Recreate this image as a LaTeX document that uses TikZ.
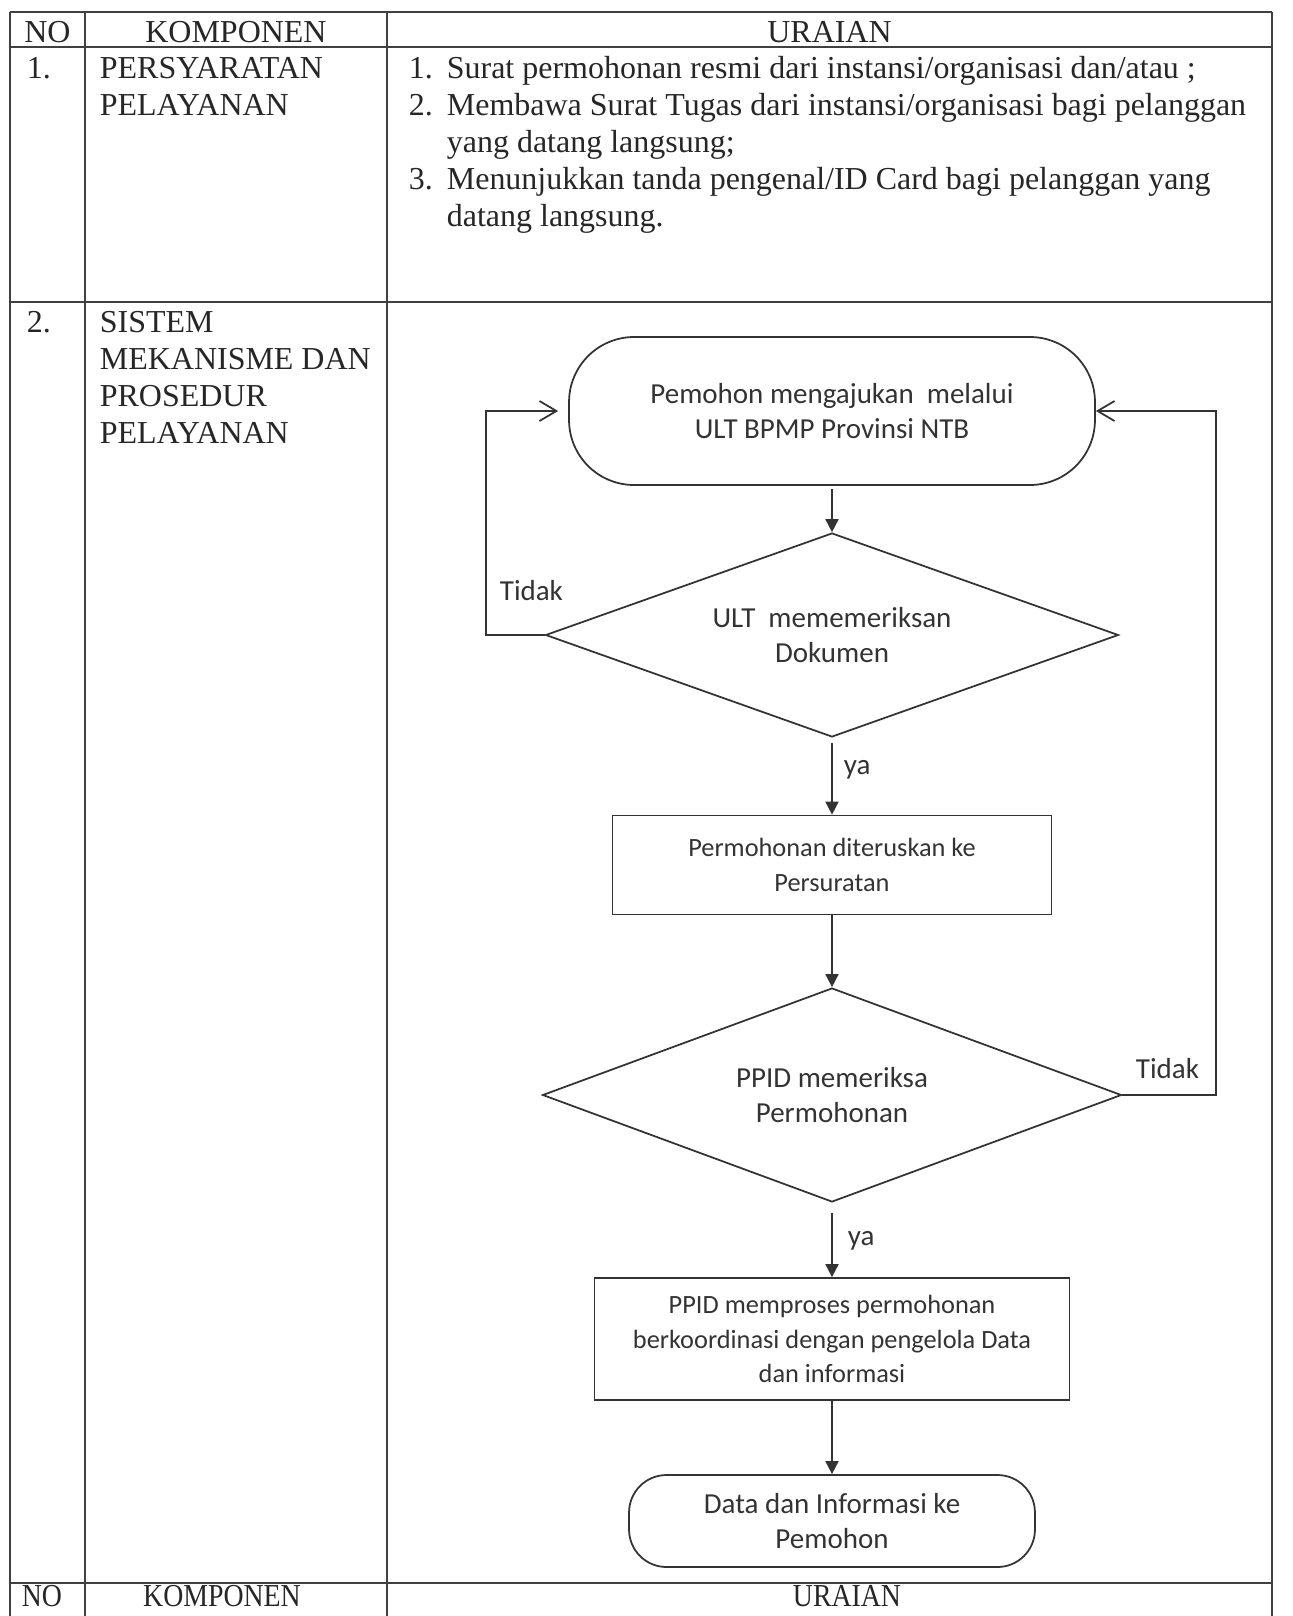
\documentclass[tikz,border=0pt]{standalone}
\usepackage{fontspec}
\setmainfont{Liberation Serif}
\newfontfamily\calibrifont{Carlito}
\usepackage{xcolor}
\usetikzlibrary{arrows.meta,positioning,calc,shapes.geometric}

\newcommand{\tblfont}{\fontsize{18.2}{21}\selectfont}
\newcommand{\flowbig}{\calibrifont\fontsize{16.5}{20}\selectfont}
\newcommand{\flowsmall}{\calibrifont\fontsize{15}{19.6}\selectfont}

\tikzset{
    tbl/.style={line width=0.7pt, black!75},
    cell/.style={anchor=base west, inner sep=0pt, font=\tblfont, text=black!85},
    head/.style={anchor=base, inner sep=0pt, font=\tblfont, text=black!85},
    term/.style={draw, rounded corners=1.3cm, align=center, inner sep=0pt, font=\flowbig},
    decision/.style={draw, diamond, aspect=2.8, align=center, inner sep=0pt, font=\flowbig},
    process/.style={draw, rectangle, align=center, inner sep=0pt, font=\flowsmall},
    flow/.style={-{Triangle[length=2.6mm,width=2.6mm]}},
    back/.style={-{Straight Barb[length=3.4mm,width=4mm]}},
    lbl/.style={inner sep=0pt, font=\flowbig},
}

\begin{document}
\begin{tikzpicture}[x=0.02cm, y=-0.02cm, line width=1pt, draw=black!80, text=black!80]
    \useasboundingbox (0,0) rectangle (1292,1616);

    % Table rules
    \draw[tbl] (10,12) -- (1272,12);
    \foreach \y in {47,302,1583} {
        \draw[tbl] (10,\y) -- (1272,\y);
    }
    \foreach \x in {10,85,387,1272} {
        \draw[tbl] (\x,12) -- (\x,1640);
    }

    % Header
    \node[head] (hno) at (47.5,42) {NO};
    \node[head] (hkomp) at (236,42) {KOMPONEN};
    \node[head] (hurai) at (829.5,42) {URAIAN};

    % Row 1
    \node[cell] (no1) at (26,78) {1.};
    \node[cell] (komp1a) at (99,78) {PERSYARATAN};
    \node[cell] (komp1b) at (99,115) {PELAYANAN};
    \node[cell] (n1) at (408,78) {1.};
    \node[cell] (u1) at (446,78) {Surat permohonan resmi dari instansi/organisasi dan/atau ;};
    \node[cell] (n2) at (408,115) {2.};
    \node[cell] (u2a) at (446,115) {Membawa Surat Tugas dari instansi/organisasi bagi pelanggan};
    \node[cell] (u2b) at (446,152) {yang datang langsung;};
    \node[cell] (n3) at (408,189) {3.};
    \node[cell] (u3a) at (446,189) {Menunjukkan tanda pengenal/ID Card bagi pelanggan yang};
    \node[cell] (u3b) at (446,226) {datang langsung.};

    % Row 2
    \node[cell] (no2) at (26,332) {2.};
    \node[cell] (komp2a) at (99,332) {SISTEM};
    \node[cell] (komp2b) at (99,369) {MEKANISME DAN};
    \node[cell] (komp2c) at (99,406) {PROSEDUR};
    \node[cell] (komp2d) at (99,443) {PELAYANAN};

    % Flowchart
    \node[term, minimum width=10.52cm, minimum height=2.96cm] (start) at (832,411)
        {Pemohon mengajukan\ \ melalui\\ULT BPMP Provinsi NTB};
    \node[decision, minimum width=11.46cm, minimum height=4.08cm] (cek1) at (832,635)
        {ULT\ \ mememeriksan\\Dokumen};
    \node[process, minimum width=8.78cm, minimum height=1.98cm] (teruskan) at (832,865)
        {Permohonan diteruskan ke\\Persuratan};
    \node[decision, minimum width=11.58cm, minimum height=4.28cm] (cek2) at (832,1095)
        {PPID memeriksa\\Permohonan};
    \node[process, minimum width=9.5cm, minimum height=2.44cm] (proses) at (832,1339)
        {PPID memproses permohonan\\berkoordinasi dengan pengelola Data\\dan informasi};
    \node[term, rounded corners=0.75cm, minimum width=8.12cm, minimum height=1.84cm] (selesai) at (832,1521)
        {Data dan Informasi ke\\Pemohon};

    % Main flow
    \draw[flow, shorten <=0.06cm] (start) -- (cek1);
    \draw[flow, shorten <=0.1cm] (cek1) -- node[lbl, right, pos=.41, xshift=0.22cm] (ya1) {ya} (teruskan);
    \draw[flow] (teruskan) -- (cek2);
    \draw[flow, shorten <=0.2cm] (cek2) -- node[lbl, right, pos=.51, xshift=0.3cm] (ya2) {ya} (proses);
    \draw[flow] (proses) -- (selesai);

    % Return loops
    \coordinate (kiri) at (486,635);
    \coordinate (kanan) at (1216,1095);
    \draw[back, shorten >=0.2cm] (cek1.west) -- (kiri) |- (start.west);
    \draw[back] (cek2.east) -- (kanan) |- (start.east);
    \node[lbl, anchor=base west] (tidak1) at (499,600) {Tidak};
    \node[lbl, anchor=base west] (tidak2) at (1135,1078) {Tidak};

    % Repeated header (page break)
    \node[head, xscale=0.87] (hno2) at (42,1606) {NO};
    \node[head, xscale=0.87] (hkomp2) at (222,1606) {KOMPONEN};
    \node[head, xscale=0.87] (hurai2) at (847,1606) {URAIAN};
\end{tikzpicture}
\end{document}
